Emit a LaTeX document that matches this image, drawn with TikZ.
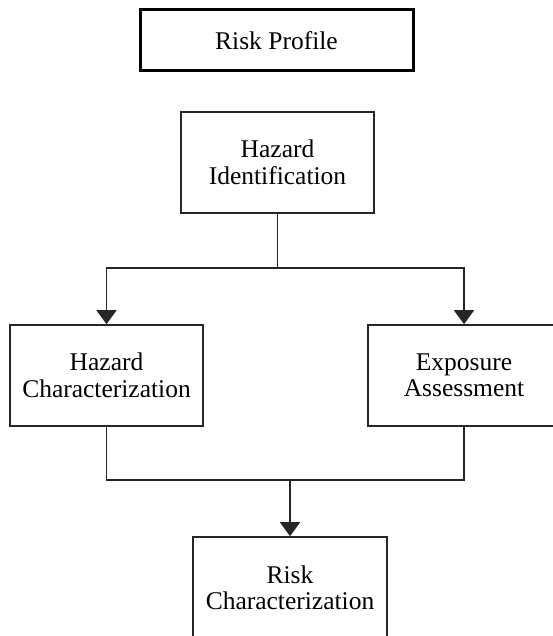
\documentclass[tikz,border=0pt]{standalone}
\usepackage{fontspec}
\setmainfont{Liberation Serif}
\usetikzlibrary{arrows.meta}
\usetikzlibrary{positioning}

\begin{document}
\begin{tikzpicture}[
        x=1pt, y=-1pt,
        stagebox/.style={
            rectangle, draw=black!85, line width=1.6pt,
            align=center, inner sep=0pt,
            font=\fontsize{25.5}{26.5}\selectfont,
        },
        link/.style={draw=black!85, line width=1.6pt},
        flow/.style={link, -{Triangle[width=20pt,length=14pt]}},
    ]
        \useasboundingbox (0,0) rectangle (553,636);

        \node (profile) at(276.5,40.5) [
            stagebox, line width=3pt, draw=black,
            minimum width=273pt, minimum height=61pt,
        ] {Risk Profile};

        \node (hazid) at(277.5,162.5) [
            stagebox,
            minimum width=193pt, minimum height=101pt,
        ] {Hazard\\Identification};

        \node (hazchar) at(106.5,375.5) [
            stagebox,
            minimum width=193pt, minimum height=101pt,
        ] {Hazard\\Characterization};
        \node (expo) at(464,375.5) [
            stagebox,
            minimum width=192pt, minimum height=101pt,
        ] {Exposure\\Assessment};

        \node (riskchar) at(290,588) [
            stagebox,
            minimum width=194pt, minimum height=102pt,
        ] {Risk\\Characterization};

        % split and merge points
        \coordinate (split) at(hazid.south |- 0,268);
        \coordinate (merge) at(riskchar.north |- 0,480);

        \draw[link] (hazid.south) -- (split);
        \draw[flow] (split) -| (hazchar.north);
        \draw[flow] (split) -| (expo.north);

        \draw[link] (hazchar.south) |- (merge);
        \draw[link] (expo.south) |- (merge);
        \draw[flow] (merge) -- (riskchar.north);
    \end{tikzpicture}
\end{document}
